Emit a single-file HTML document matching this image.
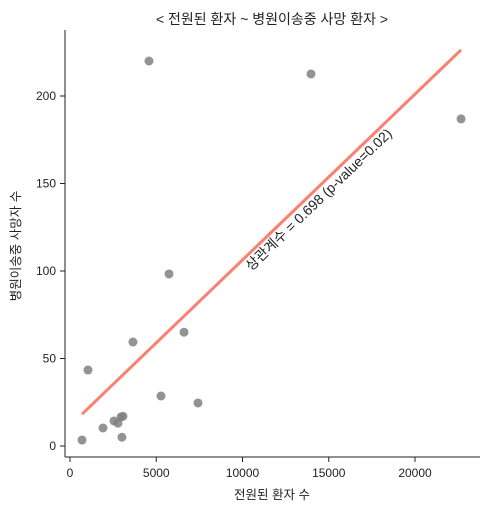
<!DOCTYPE html>
<html><head><meta charset="utf-8">
<style>
body{margin:0;background:#fff;}
svg text{font-family:"Liberation Sans","Noto Sans CJK KR",sans-serif;fill:#222;}
</style></head>
<body>
<svg id="chart" width="490" height="511" xmlns="http://www.w3.org/2000/svg">
<text x="272" y="24" font-size="14" text-anchor="middle">&lt; 전원된 환자 ~ 병원이송중 사망 환자 &gt;</text>
<g id="plot"></g>
<text x="272" y="499" font-size="12.5" text-anchor="middle">전원된 환자 수</text>
<text x="20" y="246" font-size="12.5" text-anchor="middle" transform="rotate(-90 20 246)">병원이송중 사망자 수</text>
</svg>
<script>
const xValues=[696,1043,1913,2550,2780,2960,3070,3010,3650,4580,5275,5740,6610,7420,13970,22670];
const yValues=[3.4,43.4,10.3,14.3,13,16.6,17,5,59.4,220,28.6,98.3,65,24.6,212.6,186.9];
const xTicks=[0,5000,10000,15000,20000];
const yTicks=[0,50,100,150,200];
const annotation="상관계수 = 0.698 (p-value=0.02)";
const NS="http://www.w3.org/2000/svg";
const g=document.getElementById('plot');
const X=v=>70+v*0.01725, Y=v=>446-v*1.75;
function mk(t,a){const e=document.createElementNS(NS,t);for(const k in a)e.setAttribute(k,a[k]);g.appendChild(e);return e;}
let e=mk('line',{x1:65,y1:30,x2:65,y2:457,stroke:'#222','stroke-width':1});


e=mk('line',{x1:65,y1:457,x2:480,y2:457,stroke:'#222','stroke-width':1});


xTicks.forEach(v=>{const x=X(v);
 let t=mk('line',{x1:x,y1:457,x2:x,y2:462,stroke:'#222'});
 
 
 let l=mk('text',{x:x,y:477,'font-size':12,'text-anchor':'middle'});l.textContent=v;
 
 });
yTicks.forEach(v=>{const y=Y(v);
 let t=mk('line',{x1:60,y1:y,x2:65,y2:y,stroke:'#222'});
 
 
 let l=mk('text',{x:56,y:y+4,'font-size':12,'text-anchor':'end'});l.textContent=v;
 
 });
xValues.forEach((v,i)=>{
 let c=mk('circle',{cx:X(v),cy:Y(yValues[i]),r:4.5,fill:'#808080','fill-opacity':0.85});
 
 });
const n=xValues.length,mx=xValues.reduce((a,b)=>a+b)/n,my=yValues.reduce((a,b)=>a+b)/n;
let sxy=0,sxx=0;xValues.forEach((v,i)=>{sxy+=(v-mx)*(yValues[i]-my);sxx+=(v-mx)**2;});
const slope=sxy/sxx,icpt=my-slope*mx,x0=Math.min(...xValues),x1=Math.max(...xValues);
let rl=mk('line',{x1:X(x0),y1:Y(icpt+slope*x0),x2:X(x1),y2:Y(icpt+slope*x1),stroke:'#fa8072','stroke-width':3});


let an=mk('text',{x:322,y:203,'font-size':14,'text-anchor':'middle',transform:'rotate(-44 322 203)'});
an.textContent=annotation;


</script>
</body></html>
